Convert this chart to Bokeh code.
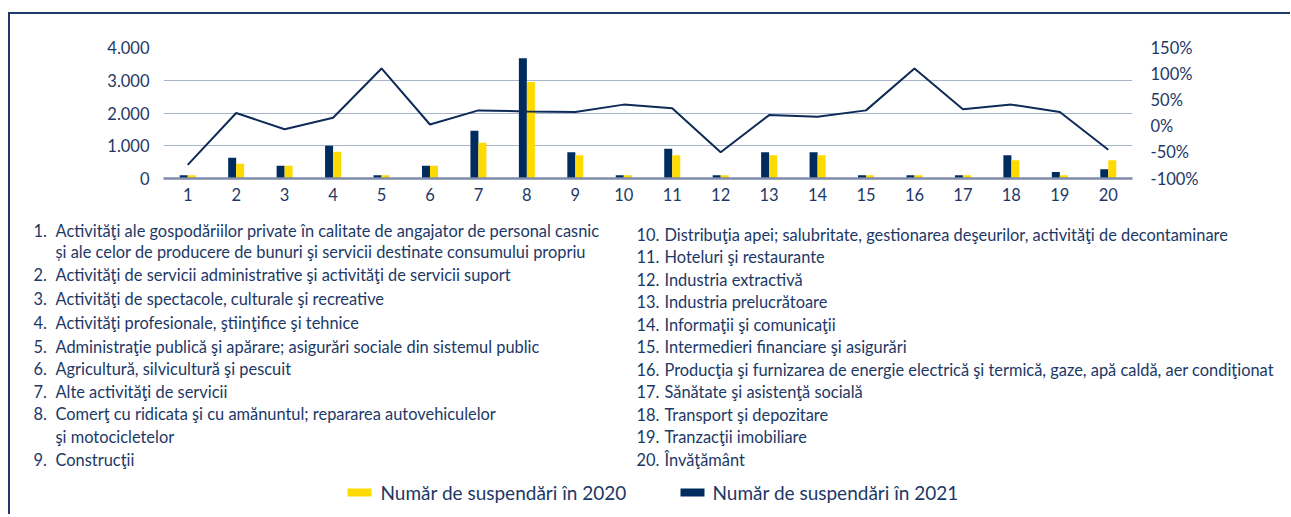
from bokeh.plotting import figure
from bokeh.models import Range1d, LinearAxis, FixedTicker, ColumnDataSource
from bokeh.layouts import column
from bokeh.transform import dodge
from bokeh.embed import file_html
from bokeh.resources import INLINE
from bokeh.core.properties import value

# ---------------- data ----------------
categories = list(range(1, 21))
cat_labels = [str(c) for c in categories]
susp_2020 = [100, 450, 390, 815, 100, 390, 1090, 2950, 710, 100,
             710, 100, 710, 710, 100, 100, 100, 560, 100, 560]
susp_2021 = [100, 630, 390, 1000, 100, 390, 1455, 3675, 800, 100,
             905, 100, 800, 800, 100, 100, 100, 710, 195, 285]
pct_change = [-74, 25, -6, 16, 110, 3, 30, 28, 27, 41,
              34, -50, 21, 18, 30, 110, 32, 41, 27, -45]
left_ticks = [0, 1000, 2000, 3000, 4000]
left_tick_labels = ["0", "1.000", "2.000", "3.000", "4.000"]
right_ticks = [-100, -50, 0, 50, 100, 150]
right_tick_labels = ["-100%", "-50%", "0%", "50%", "100%", "150%"]
names = [
    "Activităţi ale gospodăriilor private în calitate de angajator de personal casnic\nși ale celor de producere de bunuri şi servicii destinate consumului propriu",
    "Activităţi de servicii administrative şi activităţi de servicii suport",
    "Activităţi de spectacole, culturale şi recreative",
    "Activităţi profesionale, ştiinţifice şi tehnice",
    "Administraţie publică şi apărare; asigurări sociale din sistemul public",
    "Agricultură, silvicultură şi pescuit",
    "Alte activităţi de servicii",
    "Comerţ cu ridicata şi cu amănuntul; repararea autovehiculelor\nşi motocicletelor",
    "Construcţii",
    "Distribuţia apei; salubritate, gestionarea deşeurilor, activităţi de decontaminare",
    "Hoteluri şi restaurante",
    "Industria extractivă",
    "Industria prelucrătoare",
    "Informaţii şi comunicaţii",
    "Intermedieri financiare şi asigurări",
    "Producţia şi furnizarea de energie electrică şi termică, gaze, apă caldă, aer condiţionat",
    "Sănătate şi asistenţă socială",
    "Transport şi depozitare",
    "Tranzacţii imobiliare",
    "Învăţământ",
]
legend_labels = ["Număr de suspendări în 2020", "Număr de suspendări în 2021"]

# ---------------- style ----------------
NAVY = "#002B5F"
YELLOW = "#FFDA00"
TEXT = "#1C3866"
GRID = "#A9B5CD"
AXIS = "#7E8BAA"
FONT = "Lato"
W = 1280
OX, OY = 10, 14          # page offset of the layout content

# ---------------- chart ----------------
src = ColumnDataSource(dict(x=categories, y20=susp_2020, y21=susp_2021, pct=pct_change))

H1 = 196
p = figure(width=W, height=H1, x_range=Range1d(0.5, 20.5), y_range=Range1d(0, 4000),
           output_backend="svg", toolbar_location=None,
           min_border_left=163 - OX, min_border_right=W - (1132 - OX),
           min_border_top=47 - OY, min_border_bottom=H1 - (178 - OY))
p.extra_y_ranges = {"pct": Range1d(-100, 150)}
p.outline_line_color = None
p.background_fill_color = None
p.border_fill_color = None

bw = 0.165
p.vbar(x=dodge("x", -bw / 2, range=p.x_range), top="y21", width=bw, source=src,
       fill_color=NAVY, line_color=None)
p.vbar(x=dodge("x", bw / 2, range=p.x_range), top="y20", width=bw, source=src,
       fill_color=YELLOW, line_color=None)
p.line(x="x", y="pct", source=src, y_range_name="pct", line_color="#0E2B58", line_width=2)

p.xgrid.visible = False
p.ygrid.ticker = FixedTicker(ticks=left_ticks)
p.ygrid.grid_line_color = GRID
p.ygrid.grid_line_width = 1.2

xa = p.xaxis[0]
xa.ticker = FixedTicker(ticks=categories)
xa.major_label_overrides = dict(zip(categories, cat_labels))
xa.axis_line_color = AXIS
xa.axis_line_width = 2.5
xa.major_tick_line_color = None
xa.minor_tick_line_color = None
xa.major_label_standoff = 3

ya = p.yaxis[0]
ya.ticker = FixedTicker(ticks=left_ticks)
ya.major_label_overrides = dict(zip(left_ticks, left_tick_labels))
ya.axis_line_color = None
ya.major_tick_line_color = None
ya.minor_tick_line_color = None
ya.major_label_standoff = 8

ra = LinearAxis(y_range_name="pct", ticker=FixedTicker(ticks=right_ticks),
                major_label_overrides=dict(zip(right_ticks, right_tick_labels)))
ra.axis_line_color = None
ra.major_tick_line_color = None
ra.minor_tick_line_color = None
ra.major_label_standoff = 12
p.add_layout(ra, "right")

for ax in (xa, ya, ra):
    ax.major_label_text_font = FONT
    ax.major_label_text_font_size = "16.5px"
    ax.major_label_text_color = TEXT

# ---------------- category list & legend ----------------
Y2 = 210
H2 = 304
q = figure(width=W, height=H2, x_range=Range1d(0, W), y_range=Range1d(H2, 0),
           output_backend="svg", toolbar_location=None,
           min_border=0, min_border_left=0, min_border_right=0,
           min_border_top=0, min_border_bottom=0)
q.axis.visible = False
q.grid.visible = False
q.outline_line_color = None
q.background_fill_color = None
q.border_fill_color = None

for fig in (p, q):
    try:
        fig.frame_align = False
    except Exception:
        pass

left_rows = [230, 251, 274, 298, 322, 346, 368, 391, 413, 436, 459]
right_rows = [234, 256, 278.5, 301, 323.5, 346, 368.5, 391, 413.5, 436, 458.5]
num_x, num_txt, num_y = [], [], []
lab_x, lab_txt, lab_y = [], [], []
li = 0
ri = 0
for n, name in zip(categories, names):
    parts = name.split("\n")
    if n <= 9:
        nx, tx = 33, 55
        ys = left_rows[li:li + len(parts)]
        li += len(parts)
    else:
        nx, tx = 636, 664
        ys = right_rows[ri:ri + len(parts)]
        ri += len(parts)
    num_x.append(nx - OX); num_txt.append(f"{n}."); num_y.append(ys[0] - Y2)
    for part, yy in zip(parts, ys):
        lab_x.append(tx - OX); lab_txt.append(part); lab_y.append(yy - Y2)

LIST_SIZE = "16.4px"
q.text(x=num_x, y=num_y, text=num_txt, text_font=value(FONT), text_font_size=LIST_SIZE,
       text_color=TEXT, text_baseline="middle", text_align="left")
q.text(x=lab_x, y=lab_y, text=lab_txt, text_font=value(FONT), text_font_size=LIST_SIZE,
       text_color=TEXT, text_baseline="middle", text_align="left")

# legend
leg_y = 492 - Y2
q.rect(x=[359 - OX, 692 - OX], y=[leg_y, leg_y], width=24, height=8,
       fill_color=[YELLOW, NAVY], line_color=None)
q.text(x=[380 - OX, 712 - OX], y=[leg_y, leg_y], text=legend_labels, text_font=value(FONT),
       text_font_size="19px", text_color=TEXT, text_baseline="middle", text_align="left")

layout = column(p, q, spacing=0,
                styles={"margin-left": "8px", "margin-top": "12px",
                        "border-left": "2px solid #1F3A68", "border-top": "2px solid #1F3A68"})

open("out.html", "w").write(file_html(layout, INLINE))
